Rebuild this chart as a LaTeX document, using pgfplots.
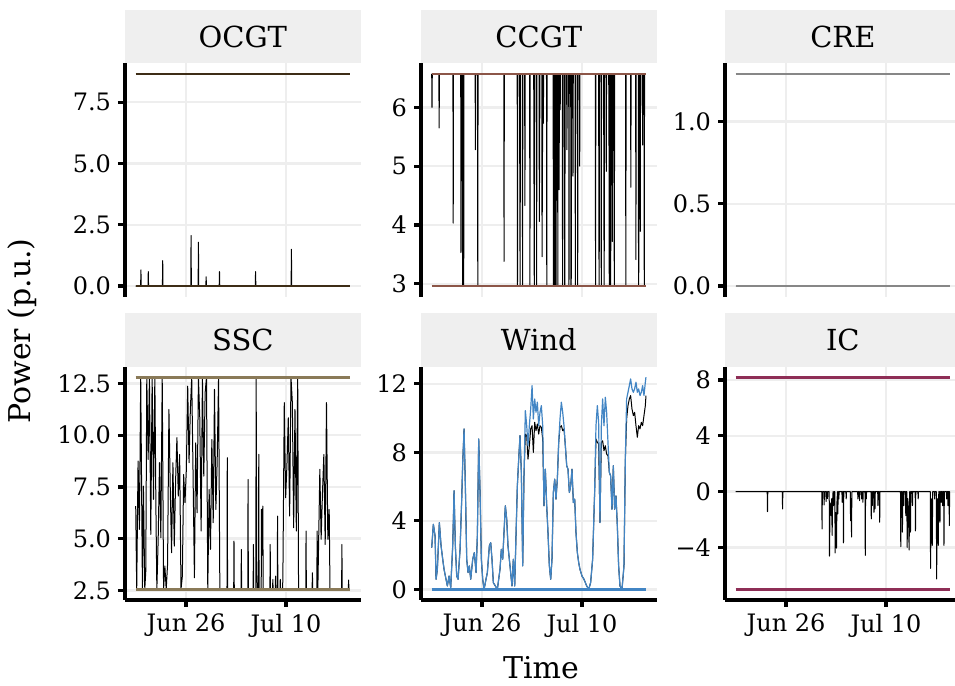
\documentclass[border=0pt]{standalone}
\usepackage{fontspec}
\setmainfont{DejaVu Serif}
\usepackage{pgfplots}
\pgfplotsset{compat=1.18}

\definecolor{ocgtc}{RGB}{62,45,22}
\definecolor{ccgtc}{RGB}{140,86,72}
\definecolor{crec}{RGB}{135,135,135}
\definecolor{sscc}{RGB}{138,122,88}
\definecolor{windc}{RGB}{66,133,196}
\definecolor{icc}{RGB}{142,46,86}
\definecolor{gridc}{RGB}{238,238,238}
\definecolor{stripc}{RGB}{239,239,239}

\pgfplotsset{
  facet/.style={
    scale only axis, width=117.85pt, height=116.7pt,
    axis lines*=left,
    axis line style={line width=1.6pt, black},
    tick align=outside, major tick length=3.5pt,
    tick style={line width=1.6pt, black},
    grid=major, major grid style={line width=1.2pt, gridc},
    xmin=17.45, xmax=50.45, xtick={26,40},
    enlargelimits=false,
    tick label style={font=\fontsize{12}{14}\selectfont, text=black},
    every axis title/.style={at={(0.5,1)}, anchor=south, fill=stripc,
      minimum width=117.85pt, minimum height=26.65pt, inner sep=0pt,
      outer sep=0pt, font=\fontsize{14.5}{17}\selectfont, text=black},
  },
  toprow/.style={facet, xmajorticks=false, x axis line style={draw=none}},
  botrow/.style={facet, xticklabels={Jun 26, Jul 10}},
  dispatch/.style={black, line width=0.5pt, line join=round},
  bound/.style={line width=1.3pt},
}

\begin{document}
\begin{tikzpicture}
\useasboundingbox (0,0) rectangle (477.5pt,343pt);

% ---------------- OCGT ----------------
\begin{axis}[toprow, at={(62.5pt,194.65pt)}, anchor=south west,
  title={OCGT}, ymin=-0.4325, ymax=9.0825,
  ytick={0,2.5,5,7.5}, yticklabels={0.0,2.5,5.0,7.5}]
\addplot[dispatch] coordinates {
(18.95,0) (19.64,0) (19.68,0.66) (19.72,0) (20.67,0) (20.71,0.59) (20.75,0)
(22.69,0) (22.73,1.04) (22.77,0) (26.66,0) (26.70,2.06) (26.74,0)
(27.69,0) (27.73,1.79) (27.77,0) (28.77,0) (28.81,0.38) (28.85,0)
(30.64,0) (30.68,0.59) (30.72,0) (35.69,0) (35.73,0.59) (35.77,0)
(40.71,0) (40.75,1.50) (40.79,0) (48.95,0)};
\addplot[bound, ocgtc] coordinates {(18.95,8.65) (48.95,8.65)};
\addplot[bound, ocgtc] coordinates {(18.95,0) (48.95,0)};
\end{axis}

% ---------------- CCGT ----------------
\begin{axis}[toprow, at={(210.5pt,194.65pt)}, anchor=south west,
  title={CCGT}, ymin=2.7795, ymax=6.7505,
  ytick={3,4,5,6}, yticklabels={3,4,5,6}]
\addplot[dispatch] coordinates {
(18.95,6.57) (18.99,6.00) (19.03,6.57)
(19.95,6.57) (19.99,5.65) (20.03,6.57)
(21.92,6.57) (21.96,4.03) (22.00,6.57)
(23.01,6.57) (23.05,3.53) (23.09,6.57)
(23.24,6.57) (23.28,2.96) (23.32,6.57) (23.39,6.57) (23.43,2.96) (23.47,6.57)
(25.03,6.57) (25.07,5.28) (25.11,6.57) (25.36,6.57) (25.40,2.96) (25.44,6.57)
(29.04,6.57) (29.08,3.38) (29.12,6.57)
(30.92,6.57) (30.96,2.96) (31.00,6.57)
(31.25,6.57) (31.29,4.20) (31.33,2.96) (31.37,6.57)
(31.63,6.57) (31.67,2.96) (31.71,6.57)
(31.96,6.57) (32.00,4.33) (32.04,6.57)
(32.66,6.57) (32.70,2.96) (32.74,6.57)
(33.23,6.57) (33.27,4.74) (33.31,2.96) (33.35,6.57)
(33.60,6.57) (33.64,2.96) (33.68,6.57)
(33.98,6.57) (34.02,4.06) (34.10,6.57)
(34.36,6.57) (34.40,3.46) (34.47,5.50) (34.52,6.57) (34.58,5.73) (34.62,6.57)
(35.02,6.57) (35.06,2.96) (35.10,6.57)
(35.95,6.57) (35.99,2.96) (36.03,6.57) (36.13,6.57) (36.17,2.96) (36.21,6.57)
(36.29,6.57) (36.33,2.96) (36.37,2.96) (36.41,6.57) (36.57,6.57) (36.61,2.96) (36.65,6.57)
(36.75,6.57) (36.79,4.60) (36.83,6.57) (36.90,6.57) (36.94,5.96) (36.98,6.57)
(37.23,6.57) (37.27,2.96) (37.31,6.57) (37.51,6.57) (37.55,2.96) (37.59,2.96) (37.63,6.57)
(37.84,6.57) (37.88,5.28) (37.92,6.57) (38.13,6.57) (38.17,2.96) (38.21,6.57)
(38.41,6.57) (38.45,2.96) (38.49,3.10) (38.53,6.57) (38.69,6.57) (38.73,4.83) (38.77,6.57)
(39.02,6.57) (39.06,2.96) (39.10,6.57) (39.35,6.57) (39.39,2.96) (39.43,6.57)
(39.63,6.57) (39.67,5.00) (39.71,6.57)
(41.85,6.57) (41.89,2.96) (41.93,6.57) (42.32,6.57) (42.36,3.60) (42.40,2.96) (42.44,6.57)
(42.65,6.57) (42.69,2.96) (42.73,6.57) (43.02,6.57) (43.06,4.06) (43.10,2.96) (43.14,6.57)
(43.35,6.57) (43.39,4.91) (43.43,6.57) (43.73,6.57) (43.77,5.45) (43.81,2.96) (43.85,6.57)
(43.97,6.57) (44.01,2.96) (44.05,6.57) (44.20,6.57) (44.24,3.72) (44.28,6.57)
(44.44,6.57) (44.48,4.23) (44.52,2.96) (44.56,6.57)
(46.09,6.57) (46.13,2.96) (46.17,6.57) (46.79,6.57) (46.83,4.64) (46.87,6.57)
(47.50,6.57) (47.54,3.41) (47.58,6.57) (47.87,6.57) (47.91,2.96) (47.95,3.30) (47.99,6.57)
(48.11,6.57) (48.15,3.89) (48.19,6.57) (48.44,6.57) (48.48,5.36) (48.52,6.57)
(48.67,6.57) (48.71,2.96) (48.75,6.57) (48.95,6.57)};
\addplot[bound, ccgtc] coordinates {(18.95,6.57) (48.95,6.57)};
\addplot[bound, ccgtc] coordinates {(18.95,2.96) (48.95,2.96)};
\end{axis}

% ---------------- CRE ----------------
\begin{axis}[toprow, at={(362.5pt,194.65pt)}, anchor=south west,
  title={CRE}, ymin=-0.0645, ymax=1.3545,
  ytick={0,0.5,1}, yticklabels={0.0,0.5,1.0}]
\addplot[dispatch] coordinates {(18.95,0) (48.95,0)};
\addplot[bound, crec] coordinates {(18.95,1.29) (48.95,1.29)};
\addplot[bound, crec] coordinates {(18.95,0) (48.95,0)};
\end{axis}

% ---------------- SSC ----------------
\begin{axis}[botrow, at={(62.5pt,43pt)}, anchor=south west,
  title={SSC}, ymin=2.0375, ymax=13.3125,
  ytick={2.5,5,7.5,10,12.5}, yticklabels={2.5,5.0,7.5,10.0,12.5}]
\addplot[dispatch] coordinates {
(18.95,6.57) (19.09,2.55) (19.28,8.75) (19.47,5.45) (19.65,12.8) (19.89,2.55)
(20.03,7.54) (20.22,2.55) (20.36,3.43) (20.50,12.8) (20.69,8.83) (20.87,12.8)
(21.06,5.21) (21.25,12.8) (21.44,6.90) (21.63,12.8) (21.77,6.74) (21.91,2.55)
(22.10,5.04) (22.28,8.67) (22.47,5.04) (22.66,12.8) (22.85,2.55) (23.03,3.68)
(23.22,2.55) (23.41,3.76) (23.60,11.24) (23.79,7.38) (23.97,4.32) (24.16,8.67)
(24.35,4.64) (24.54,7.86) (24.72,9.88) (24.91,7.06) (25.10,9.07) (25.29,2.55)
(25.48,3.19) (25.66,8.10) (25.85,6.74) (26.04,8.35) (26.23,12.37) (26.42,8.67)
(26.60,11.24) (26.79,12.8) (26.98,8.10) (27.17,3.11) (27.35,9.63) (27.54,6.25)
(27.73,12.8) (27.92,10.84) (28.11,5.37) (28.29,12.8) (28.48,8.02) (28.67,12.05)
(28.86,12.8) (29.04,2.55) (29.23,7.38) (29.42,4.48) (29.61,9.79) (29.80,5.77)
(29.98,12.21) (30.17,6.41) (30.36,8.83) (30.55,12.8) (30.73,2.55)
(31.73,2.55) (31.77,8.91) (31.81,2.55) (32.67,2.55) (32.71,4.88) (32.75,2.55)
(33.70,2.55) (33.74,4.48) (33.78,2.55) (34.64,2.55) (34.68,7.86) (34.72,2.55)
(35.39,2.55) (35.43,4.72) (35.47,2.55) (35.77,2.55) (35.81,12.8) (35.90,3.51)
(36.00,2.55) (36.14,2.55) (36.18,9.07) (36.22,2.55) (36.52,2.55) (36.56,6.41)
(36.66,4.20) (36.74,6.57) (36.80,2.55) (37.74,2.55) (37.78,4.72) (37.82,2.55)
(38.11,2.55) (38.15,3.03) (38.19,2.55) (38.49,2.55) (38.53,3.19) (38.57,2.55)
(38.77,2.55) (38.81,6.09) (38.85,2.55) (39.15,2.55) (39.19,3.03) (39.23,2.55)
(39.52,2.55) (39.56,3.35) (39.75,11.57) (39.94,6.98) (40.12,8.51) (40.31,10.84)
(40.50,6.09) (40.69,12.8) (40.88,11.57) (41.06,5.53) (41.25,11.24) (41.44,5.37)
(41.63,12.8) (41.75,2.55) (42.76,2.55) (42.80,5.37) (42.84,2.55) (43.65,2.55)
(43.69,3.35) (43.73,2.55) (44.31,2.55) (44.35,5.37) (44.45,2.55) (44.54,4.40)
(44.73,8.35) (44.91,4.97) (45.10,7.22) (45.29,9.07) (45.48,4.72) (45.66,11.57)
(45.85,4.97) (46.04,6.41) (46.15,2.55) (47.78,2.55) (47.82,4.72) (47.86,2.55)
(48.72,2.55) (48.76,3.00) (48.80,2.55) (48.95,2.55)};
\addplot[bound, sscc] coordinates {(18.95,12.8) (48.95,12.8)};
\addplot[bound, sscc] coordinates {(18.95,2.55) (48.95,2.55)};
\end{axis}

% ---------------- Wind ----------------
\begin{axis}[botrow, at={(210.5pt,43pt)}, anchor=south west,
  title={Wind}, ymin=-0.62, ymax=13.01,
  ytick={0,4,8,12}, yticklabels={0,4,8,12}]
% dispatched wind
\addplot[dispatch] coordinates {
(18.95,2.44) (19.18,3.80) (19.42,3.12) (19.56,0.59) (19.74,1.17) (20.02,3.90)
(20.26,2.54) (20.49,1.76) (20.68,1.17) (20.91,0.68) (21.14,0.20) (21.38,0.78)
(21.61,0.10) (21.89,2.54) (22.08,5.76) (22.26,2.54) (22.45,0.78) (22.64,0.59)
(22.92,2.34) (23.15,5.27) (23.29,7.41) (23.48,9.37) (23.66,6.05) (23.85,1.76)
(24.04,0.98) (24.22,1.37) (24.41,0.59) (24.69,1.76) (24.92,2.15) (25.16,0.98)
(25.34,3.12) (25.53,8.78) (25.72,5.66) (25.90,1.76) (26.09,0.59) (26.28,0.00)
(26.55,0.59) (26.74,0.98) (27.02,2.54) (27.21,2.73) (27.39,1.76) (27.58,0.39)
(27.86,0.20) (28.14,0.00) (28.51,1.17) (28.70,2.34) (28.89,1.76) (29.07,3.32)
(29.26,4.88) (29.45,4.10) (29.63,2.54) (29.91,1.37) (30.19,0.20) (30.38,1.76)
(30.57,0.20) (30.75,3.12) (30.94,6.05) (31.13,7.61) (31.31,8.98) (31.50,6.83)
(31.69,1.37) (31.87,6.63) (32.06,9.07) (32.25,8.98) (32.43,7.61) (32.62,8.39)
(32.81,9.37) (33.00,9.56) (33.18,8.00) (33.37,9.76) (33.55,9.27) (33.74,9.66)
(33.93,9.07) (34.11,9.56) (34.30,9.46) (34.49,8.78) (34.67,4.88) (34.86,7.02)
(35.05,4.88) (35.23,3.32) (35.42,1.37) (35.61,0.59) (35.79,1.76) (35.98,5.66)
(36.17,6.44) (36.35,5.27) (36.54,6.44) (36.73,8.59) (36.91,9.46) (37.10,9.56)
(37.29,9.27) (37.47,9.37) (37.66,8.39) (37.85,7.22) (38.03,7.02) (38.22,5.66)
(38.41,6.05) (38.59,7.02) (38.78,5.07) (38.97,5.27) (39.15,3.32) (39.34,2.15)
(39.53,1.56) (39.71,1.17) (39.99,0.78) (40.27,0.59) (40.65,0.20) (40.93,0.00)
(41.20,0.39) (41.48,1.76) (41.76,5.66) (41.95,8.78) (42.14,8.59) (42.32,8.49)
(42.51,3.90) (42.70,8.59) (42.88,8.68) (43.07,8.10) (43.26,8.39) (43.44,7.90)
(43.63,7.80) (43.82,6.83) (44.00,6.63) (44.19,4.68) (44.38,7.22) (44.56,4.68)
(44.75,5.46) (44.94,3.71) (45.12,1.37) (45.31,0.20) (45.59,0.00) (45.87,1.37)
(46.06,7.61) (46.24,9.95) (46.43,10.73) (46.62,11.12) (46.80,11.32) (46.99,10.54)
(47.18,10.15) (47.36,10.34) (47.55,9.56) (47.74,8.88) (47.92,9.56) (48.11,9.37)
(48.30,9.76) (48.48,9.56) (48.67,10.15) (48.86,10.73) (48.95,11.32)};
% available wind
\addplot[windc, line width=0.6pt, line join=round] coordinates {
(18.95,2.44) (19.18,3.80) (19.42,3.12) (19.56,0.59) (19.74,1.17) (20.02,3.90)
(20.26,2.54) (20.49,1.76) (20.68,1.17) (20.91,0.68) (21.14,0.20) (21.38,0.78)
(21.61,0.10) (21.89,2.54) (22.08,5.76) (22.26,2.54) (22.45,0.78) (22.64,0.59)
(22.92,2.34) (23.15,5.27) (23.29,7.41) (23.48,9.37) (23.66,6.05) (23.85,1.76)
(24.04,0.98) (24.22,1.37) (24.41,0.59) (24.69,1.76) (24.92,2.15) (25.16,0.98)
(25.34,3.12) (25.53,8.78) (25.72,5.66) (25.90,1.76) (26.09,0.59) (26.28,0.00)
(26.55,0.59) (26.74,0.98) (27.02,2.54) (27.21,2.73) (27.39,1.76) (27.58,0.39)
(27.86,0.20) (28.14,0.00) (28.51,1.17) (28.70,2.34) (28.89,1.76) (29.07,3.32)
(29.26,4.88) (29.45,4.10) (29.63,2.54) (29.91,1.37) (30.19,0.20) (30.38,1.76)
(30.57,0.20) (30.75,3.12) (30.94,6.05) (31.13,7.61) (31.31,8.98) (31.50,6.83)
(31.69,1.37) (31.87,6.63) (32.06,10.44) (32.25,9.56) (32.43,8.39) (32.62,9.56)
(32.81,10.54) (33.00,11.90) (33.18,9.95) (33.37,11.12) (33.55,10.34) (33.74,10.93)
(33.93,9.56) (34.11,10.34) (34.30,10.73) (34.49,9.56) (34.67,4.88) (34.86,7.02)
(35.05,4.88) (35.23,3.32) (35.42,1.37) (35.61,0.59) (35.79,1.76) (35.98,5.66)
(36.17,6.44) (36.35,5.27) (36.54,6.44) (36.73,8.59) (36.91,9.95) (37.10,10.93)
(37.29,10.34) (37.47,9.56) (37.66,8.39) (37.85,7.22) (38.03,7.02) (38.22,5.66)
(38.41,6.05) (38.59,7.02) (38.78,5.07) (38.97,5.27) (39.15,3.32) (39.34,2.15)
(39.53,1.56) (39.71,1.17) (39.99,0.78) (40.27,0.59) (40.65,0.20) (40.93,0.00)
(41.20,0.39) (41.48,1.76) (41.76,5.66) (41.95,9.56) (42.14,10.73) (42.32,9.76)
(42.51,3.90) (42.70,9.56) (42.88,11.12) (43.07,9.56) (43.26,11.22) (43.44,10.34)
(43.63,8.59) (43.82,6.83) (44.00,6.63) (44.19,4.68) (44.38,7.22) (44.56,4.68)
(44.75,5.46) (44.94,3.71) (45.12,1.37) (45.31,0.20) (45.59,0.00) (45.87,1.37)
(46.06,7.61) (46.24,11.12) (46.43,11.51) (46.62,11.90) (46.80,12.29) (46.99,11.71)
(47.18,11.51) (47.36,11.71) (47.55,12.10) (47.74,11.51) (47.92,11.71) (48.11,11.32)
(48.30,11.51) (48.48,11.90) (48.67,11.32) (48.86,12.10) (48.95,12.39)};
\addplot[bound, windc] coordinates {(18.95,0) (48.95,0)};
\end{axis}

% ---------------- IC ----------------
\begin{axis}[botrow, at={(362.5pt,43pt)}, anchor=south west,
  title={IC}, ymin=-7.76, ymax=8.96,
  ytick={-4,0,4,8}, yticklabels={−4,0,4,8}]
\addplot[dispatch] coordinates {
(18.95,0) (23.36,0) (23.40,-1.43) (23.44,0) (25.47,0) (25.51,-1.24) (25.55,0)
(31.00,0) (31.04,-2.67) (31.08,0) (31.29,0) (31.33,-0.95) (31.37,0)
(31.57,0) (31.61,-0.71) (31.65,0) (31.75,0) (31.79,-0.50) (31.83,0)
(32.04,0) (32.08,-4.61) (32.16,-0.80) (32.23,-1.20) (32.31,-1.71) (32.38,-0.50)
(32.45,-3.13) (32.52,-0.60) (32.58,0) (32.64,-1.00) (32.70,0) (32.83,0)
(32.87,-4.39) (32.95,-1.50) (33.02,-2.20) (33.06,-4.04) (33.12,-0.80) (33.20,0)
(33.25,-1.59) (33.30,0) (33.35,0) (33.39,-0.52) (33.43,0) (33.82,0) (33.86,-0.76)
(33.90,0) (34.00,0) (34.04,-3.66) (34.08,0) (34.38,0) (34.42,-0.52) (34.46,0)
(34.99,0) (35.03,-2.07) (35.10,-0.50) (35.17,-3.25) (35.21,0) (36.02,0)
(36.06,-0.52) (36.10,0) (36.25,0) (36.29,-0.64) (36.33,0) (36.54,0) (36.58,-0.52)
(36.62,0) (36.72,0) (36.76,-0.76) (36.80,0) (37.05,0) (37.09,-4.56) (37.13,0)
(37.19,0) (37.23,-0.52) (37.27,0) (37.89,0) (37.93,-1.95) (37.98,0) (38.04,0)
(38.08,-1.00) (38.12,0) (38.27,0) (38.31,-1.48) (38.36,0) (38.41,0) (38.45,-1.24)
(38.49,0) (38.83,0) (38.87,-1.00) (38.91,0) (39.07,0) (39.11,-2.19) (39.15,0)
(42.02,0) (42.06,-3.94) (42.12,0) (42.25,0) (42.29,-2.90) (42.35,0) (42.44,0)
(42.48,-1.00) (42.52,0) (42.72,0) (42.76,-1.71) (42.82,0) (42.91,0) (42.95,-3.99)
(43.05,-0.50) (43.13,-1.20) (43.23,-4.18) (43.30,0) (43.38,0) (43.42,-2.90)
(43.47,0) (43.66,0) (43.70,-1.00) (43.74,0) (44.08,0) (44.12,-2.80) (44.16,0)
(44.46,0) (44.50,-0.52) (44.54,0) (46.19,0) (46.23,-5.49) (46.32,-0.50)
(46.40,-1.00) (46.47,-3.85) (46.53,0) (46.76,0) (46.80,-0.52) (46.84,0)
(47.04,0) (47.08,-6.25) (47.15,-2.00) (47.22,-0.50) (47.31,-3.85) (47.38,0)
(47.50,0) (47.55,-2.19) (47.60,0) (47.69,0) (47.73,-0.76) (47.77,0) (47.88,0)
(47.92,-1.00) (47.96,0) (48.07,0) (48.11,-3.85) (48.16,0) (48.44,0) (48.48,-0.52)
(48.52,0) (48.63,0) (48.67,-1.00) (48.71,0) (48.82,0) (48.86,-2.43) (48.90,0)
(48.95,0)};
\addplot[bound, icc] coordinates {(18.95,8.2) (48.95,8.2)};
\addplot[bound, icc] coordinates {(18.95,-7.0) (48.95,-7.0)};
\end{axis}

% axis titles
\node[rotate=90, font=\fontsize{15}{18}\selectfont] at (11pt,177.5pt) {Power (p.u.)};
\node[font=\fontsize{15}{18}\selectfont] at (270.5pt,9pt) {Time};
\end{tikzpicture}
\end{document}
